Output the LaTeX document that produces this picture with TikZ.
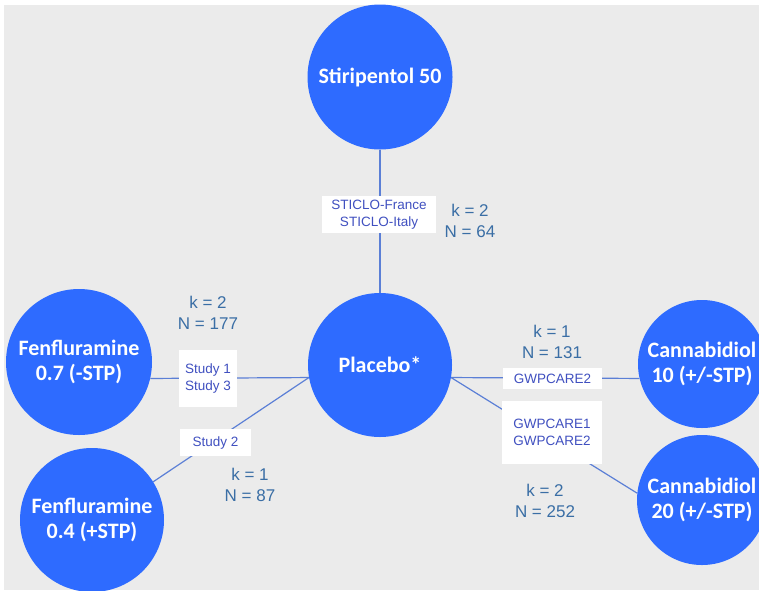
\documentclass[tikz,border=0pt]{standalone}
\usepackage{fontspec}
\setmainfont{Liberation Sans}
\newfontfamily\calfont{Carlito}
\definecolor{bgc}{HTML}{EBEBEB}
\definecolor{circc}{HTML}{2E6BFF}
\definecolor{linec}{HTML}{5B7FD6}
\definecolor{labc}{HTML}{4050C0}
\definecolor{knc}{HTML}{3A6EA5}
\pgfdeclarelayer{bglayer}
\pgfdeclarelayer{linelayer}
\pgfsetlayers{bglayer,linelayer,main}
\begin{document}
\begin{tikzpicture}[x=1pt,y=-1pt,
  drug/.style={circle,fill=circc,draw=none,text=white,align=center,inner sep=0pt,
    font=\calfont\bfseries\fontsize{22}{25}\selectfont},
  lab/.style={fill=white,draw=none,text=labc,align=center,inner sep=0pt,
    font=\fontsize{13.5}{17}\selectfont},
  kn/.style={text=knc,align=center,inner sep=0pt,font=\fontsize{17}{21}\selectfont},
  conn/.style={draw=linec,line width=1.2pt}]
\useasboundingbox (0,0) rectangle (759,590);
\clip (0,0) rectangle (759,590);
\begin{pgfonlayer}{bglayer}
\fill[white] (0,0) rectangle (759,590);
\fill[bgc] (4,5) rectangle (759,590);
\end{pgfonlayer}
% circles
\node[drug,minimum size=145pt] (stir) at (380,77) {Stiripentol 50};
\node[drug,minimum size=144pt] (plac) at (380,365) {Placebo*};
\node[drug,minimum size=146pt] (fen7) at (79,362) {Fenfluramine\\0.7 (-STP)};
\node[drug,minimum size=144pt] (fen4) at (92,520) {Fenfluramine\\0.4 (+STP)};
\node[drug,minimum size=128pt] (can10) at (702,364) {Cannabidiol\\10 (+/-STP)};
\node[drug,minimum size=130pt] (can20) at (702,500) {Cannabidiol\\20 (+/-STP)};
% anchor points on placebo
\coordinate (pl) at (plac.190);
\coordinate (pr) at (plac.350);
% connectors
\begin{pgfonlayer}{linelayer}
\draw[conn] (stir.south) -- (plac.north);
\draw[conn] (pl) -- (fen7.-13);
\draw[conn] (pl) -- (fen4.32);
\draw[conn] (pr) -- (can10.193);
\draw[conn] (pr) -- (can20.174);
\end{pgfonlayer}
% labels
\node[lab,minimum width=114pt,minimum height=37pt] (l1) at (379,214.5) {STICLO-France\\STICLO-Italy};
\node[lab,minimum width=58pt,minimum height=57pt] (l2) at (208,378.5) {Study 1\\Study 3};
\node[lab,minimum width=71pt,minimum height=27pt] (l3) at (215.5,442.5) {Study 2};
\node[lab,minimum width=99pt,minimum height=21pt] (l4) at (552.5,378.5) {GWPCARE2};
\node[lab,minimum width=100pt,minimum height=63pt] (l5) at (552,432.5) {GWPCARE1\\GWPCARE2};
% k / N
\node[kn] (k1) at (470,221) {k = 2\\N = 64};
\node[kn] (k2) at (208,313) {k = 2\\N = 177};
\node[kn] (k3) at (552,342) {k = 1\\N = 131};
\node[kn] (k4) at (250,485) {k = 1\\N = 87};
\node[kn] (k5) at (545,501) {k = 2\\N = 252};
\end{tikzpicture}
\end{document}
